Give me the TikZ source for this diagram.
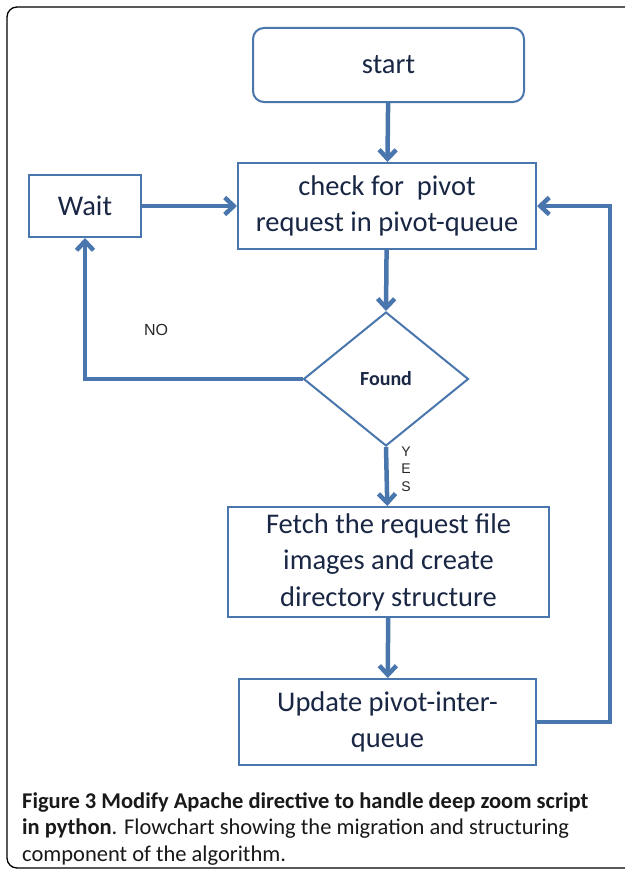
\documentclass[tikz,border=0pt]{standalone}
\usepackage{fontspec}
\setmainfont{Carlito}
\newfontfamily\labelfont{Liberation Sans}
\usetikzlibrary{shapes,arrows.meta}
\definecolor{flowblue}{HTML}{4A76AE}
\definecolor{flowtext}{HTML}{1A2744}
\begin{document}
\begin{tikzpicture}[x=1pt,y=-1pt]
        \tikzstyle{every node}+=[inner sep=0pt]
        \tikzstyle{box}=[draw=flowblue,line width=2pt,text=flowtext,align=center,font=\fontsize{28.5}{36.5}\selectfont]
        \tikzstyle{flow}=[draw=flowblue,line width=4.5pt,-{Straight Barb[length=9pt,width=17pt]}]
        \useasboundingbox (0,0) rectangle (624,875);
        \fill[white] (0,0) rectangle (624,875);
        % frame
        \draw [black,line width=1.3pt,rounded corners=10pt] (7,7) rectangle (650,868);
        % boxes
        \node (start) [box,rounded corners=11pt,minimum width=271pt,minimum height=74pt] at (388.5,65) {start};
        \node (check) [box,minimum width=298pt,minimum height=86pt] at (387,206) {check for \ pivot\\request in pivot-queue};
        \node (wait) [box,minimum width=112pt,minimum height=62pt] at (85,206) {Wait};
        \node (found) [box,diamond,minimum width=165pt,minimum height=134pt,font=\bfseries\fontsize{20}{24}\selectfont] at (386,379) {Found};
        \node (fetch) [box,minimum width=321pt,minimum height=110pt] at (388.5,562) {Fetch the request file\\images and create\\directory structure};
        \node (update) [box,minimum width=297pt,minimum height=86pt] at (387.5,722) {Update pivot-inter-\\queue};
        % labels
        \node (no) [font=\labelfont\fontsize{16}{18}\selectfont,text=black!85] at (156,330) {NO};
        \node (yes) [font=\labelfont\fontsize{14}{17.5}\selectfont,text=black!85,align=center] at (406,469) {Y\\E\\S};
        \coordinate (noturn) at (85,379);
        \coordinate (backturn) at (610,722);
        % connectors
        \draw [flow] (start) -- (check);
        \draw [flow] (wait) -- (check);
        \draw [flow] (check) -- (found.north);
        \draw [flow] (found.south) -- (fetch);
        \draw [flow] (fetch) -- (update);
        \draw [flow] (found.west) -- (noturn) -- (wait.south);
        \draw [flow] (update.east) -- (backturn) |- (check.east);
        % caption
        \node (caption) [anchor=north west,align=left,font=\fontsize{22.5}{26.5}\selectfont,text=black!90] at (22,792)
        {\textbf{Figure 3 Modify Apache directive to handle deep zoom script}\\\textbf{in python}. Flowchart showing the migration and structuring\\component of the algorithm.};
\end{tikzpicture}
\end{document}
